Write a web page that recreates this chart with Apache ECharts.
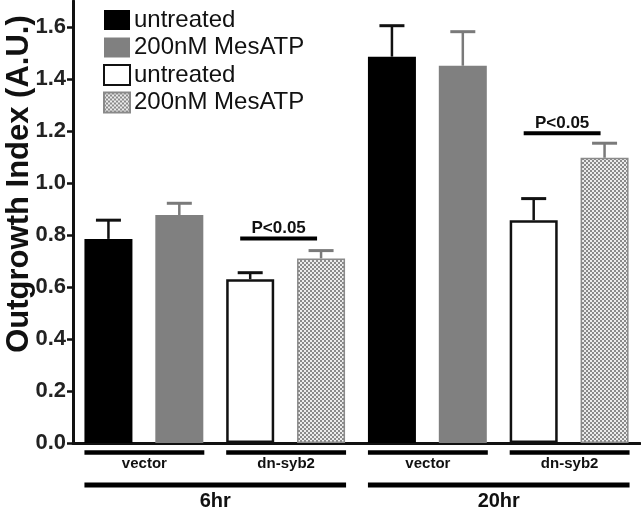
<!DOCTYPE html>
<html><head><meta charset="utf-8">
<script src="https://cdn.jsdelivr.net/npm/echarts@6/dist/echarts.min.js"></script>
<style>html,body{margin:0;padding:0;background:#fff}#c{width:641px;height:512px}</style>
</head><body><div id="c"></div>
<script>
// ---- data ----
const categories = ['6hr vector untreated','6hr vector MesATP','6hr dn-syb2 untreated','6hr dn-syb2 MesATP',
                    '20hr vector untreated','20hr vector MesATP','20hr dn-syb2 untreated','20hr dn-syb2 MesATP'];
const vecUntreated   = [0.785, null, null, null, 1.486, null, null, null];
const vecUntreatedUp = [0.857, null, null, null, 1.605, null, null, null];
const vecMes         = [null, 0.877, null, null, null, 1.451, null, null];
const vecMesUp       = [null, 0.922, null, null, null, 1.582, null, null];
const dnUntreated    = [null, null, 0.630, null, null, null, 0.857, null];
const dnUntreatedUp  = [null, null, 0.655, null, null, null, 0.940, null];
const dnMes          = [null, null, null, 0.710, null, null, null, 1.097];
const dnMesUp        = [null, null, null, 0.740, null, null, null, 1.153];
const yTicks = [0, 0.2, 0.4, 0.6, 0.8, 1.0, 1.2, 1.4, 1.6];
const groupLabels = [{from:0,to:1,text:'vector'},{from:2,to:3,text:'dn-syb2'},{from:4,to:5,text:'vector'},{from:6,to:7,text:'dn-syb2'}];
const timeLabels  = [{from:0,to:3,text:'6hr'},{from:4,to:7,text:'20hr'}];
const pValues = [{from:2,to:3,y:0.787,text:'P<0.05'},{from:6,to:7,y:1.191,text:'P<0.05'}];

const FONT = '"Liberation Sans", Arial, Helvetica, sans-serif';
const BARW = 48;

// checker pattern
const pc = document.createElement('canvas');
pc.width = 4; pc.height = 4;
const pctx = pc.getContext('2d');
pctx.fillStyle = '#ececec'; pctx.fillRect(0,0,4,4);
pctx.fillStyle = '#8a8a8a'; pctx.fillRect(0,0,2,2); pctx.fillRect(2,2,2,2);

function errData(vals, ups){
  const out = [];
  vals.forEach((v,i)=>{ if(v!=null) out.push([i, v, ups[i]]); });
  return out;
}
function errSeries(vals, ups, color){
  return {
    type:'custom', data: errData(vals, ups), z: 1, silent:true,
    renderItem(params, api){
      const p0 = api.coord([api.value(0), api.value(1)]);
      const p1 = api.coord([api.value(0), api.value(2)]);
      return {type:'group', children:[
        {type:'line', shape:{x1:p0[0],y1:p0[1],x2:p1[0],y2:p1[1]}, style:{stroke:color,lineWidth:2.5}},
        {type:'line', shape:{x1:p1[0]-12.5,y1:p1[1],x2:p1[0]+12.5,y2:p1[1]}, style:{stroke:color,lineWidth:3}}
      ]};
    }
  };
}

const chart = echarts.init(document.getElementById('c'), null, {renderer:'canvas'});
chart.setOption({
  animation:false,
  backgroundColor:'#fff',
  grid:{left:73, right:1, top:1, bottom:69, containLabel:false, outerBoundsMode:'none'},
  legend:{
    orient:'vertical', left:103, top:8, padding:0, itemWidth:26, itemHeight:20, itemGap:3.5, selectedMode:false,
    icon:'rect',
    formatter: n => n.trim(),
    textStyle:{fontFamily:FONT, fontSize:24, color:'#111', lineHeight:24, padding:[0,0,0,-1]},
    data:['untreated','200nM MesATP','untreated ','200nM MesATP ']
  },
  xAxis:{
    type:'category', data:categories,
    axisLine:{lineStyle:{color:'#111', width:3}},
    axisTick:{show:false}, axisLabel:{show:false}
  },
  yAxis:{
    type:'value', min:0, max:1.7,
    name:'Outgrowth Index (A.U.)', nameLocation:'middle', nameGap:38, nameRotate:90, nameMoveOverlap:false,
    nameTextStyle:{fontFamily:FONT, fontSize:31, fontWeight:'bold', color:'#111', padding:[0,0,0,76]},
    axisLine:{show:true, lineStyle:{color:'#111', width:3}},
    axisTick:{show:true, length:6, lineStyle:{color:'#111', width:2.5}, customValues:yTicks},
    axisLabel:{customValues:yTicks, formatter: v => v.toFixed(1), margin:7,
      fontFamily:FONT, fontSize:22, fontWeight:'bold', color:'#222'},
    splitLine:{show:false}
  },
  series:[
    {name:'untreated', type:'bar', data:vecUntreated, barWidth:BARW, barGap:'-100%',
     itemStyle:{color:'#000'}, z:2},
    {name:'200nM MesATP', type:'bar', data:vecMes, barWidth:BARW, barGap:'-100%',
     itemStyle:{color:'#808080'}, z:2},
    {name:'untreated ', type:'bar', data:dnUntreated, barWidth:BARW, barGap:'-100%',
     itemStyle:{color:'#fff', borderColor:'#111', borderWidth:2.5}, z:2},
    {name:'200nM MesATP ', type:'bar', data:dnMes, barWidth:BARW, barGap:'-100%',
     itemStyle:{color:{image:pc, repeat:'repeat'}, borderColor:'#8a8a8a', borderWidth:1.5}, z:2},
    errSeries(vecUntreated, vecUntreatedUp, '#111'),
    errSeries(vecMes, vecMesUp, '#7a7a7a'),
    errSeries(dnUntreated, dnUntreatedUp, '#111'),
    errSeries(dnMes, dnMesUp, '#7a7a7a'),
    // group / time brackets below the axis
    {
      type:'custom', silent:true, clip:false,
      data: groupLabels.map(g=>[g.from, g.to, 0]).concat(timeLabels.map(t=>[t.from, t.to, 1])),
      renderItem(params, api){
        const a = api.coord([api.value(0), 0]);
        const b = api.coord([api.value(1), 0]);
        const lvl = api.value(2);
        const txt = lvl === 0 ? groupLabels[params.dataIndex].text : timeLabels[params.dataIndex - groupLabels.length].text;
        const x1 = a[0] - BARW/2, x2 = b[0] + BARW/2 + 1;
        const ly = a[1] + (lvl === 0 ? 9.5 : 42);
        const ty = a[1] + (lvl === 0 ? 21 : 58);
        return {type:'group', children:[
          {type:'line', shape:{x1:x1,y1:ly,x2:x2,y2:ly}, style:{stroke:'#000', lineWidth: lvl===0?4.5:5}},
          {type:'text', x:(x1+x2)/2, y:ty, style:{text:txt, fill:'#111', align:'center', verticalAlign:'middle',
            font: 'bold ' + (lvl===0?'15px ':'20px ') + FONT}}
        ]};
      }
    },
    // p-value annotations
    {
      type:'custom', silent:true, clip:false,
      data: pValues.map(p=>[p.from, p.to, p.y]),
      renderItem(params, api){
        const a = api.coord([api.value(0), api.value(2)]);
        const b = api.coord([api.value(1), api.value(2)]);
        const x1 = a[0] - 10, x2 = b[0] - 4;
        return {type:'group', children:[
          {type:'line', shape:{x1:x1,y1:a[1],x2:x2,y2:a[1]}, style:{stroke:'#000', lineWidth:4}},
          {type:'text', x:(x1+x2)/2, y:a[1]-10, style:{text:pValues[params.dataIndex].text, fill:'#111',
            align:'center', verticalAlign:'middle', font:'bold 17px ' + FONT}}
        ]};
      }
    }
  ]
});
</script></body></html>
